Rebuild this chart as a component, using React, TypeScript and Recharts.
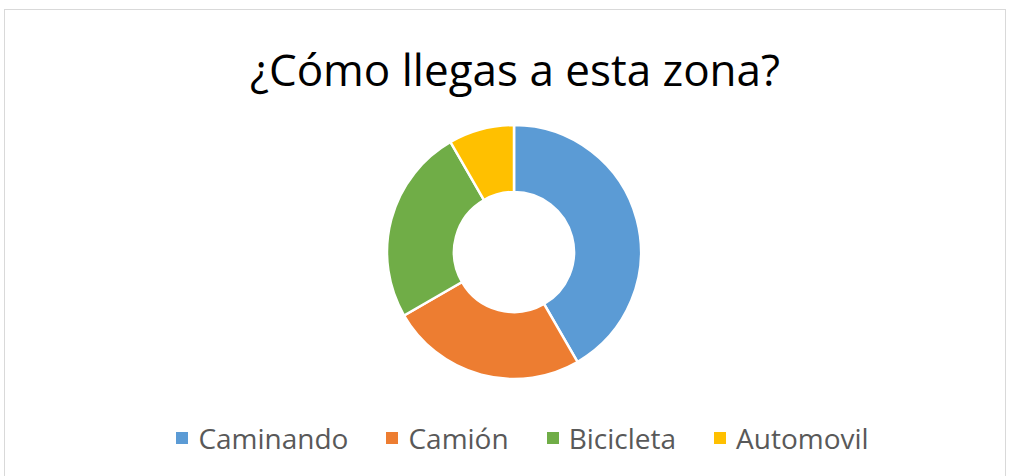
import { PieChart, Pie, Cell, Legend } from 'recharts'

const CATEGORIES = ['Caminando', 'Camión', 'Bicicleta', 'Automovil']
const VALUES = [5, 3, 3, 1]
const COLORS = ['#5b9bd5', '#ed7d31', '#70ad47', '#ffc000']

const data = CATEGORIES.map((name, i) => ({ name, value: VALUES[i] }))

function LegendRow() {
  return (
    <div
      style={{
        display: 'flex',
        justifyContent: 'center',
        alignItems: 'center',
        gap: 38,
        fontFamily: 'Open Sans, sans-serif',
        fontSize: 28,
        lineHeight: '34px',
        color: '#595959',
      }}
    >
      {CATEGORIES.map((c, i) => (
        <span key={c} style={{ display: 'flex', alignItems: 'center', gap: 10 }}>
          <span style={{ width: 12, height: 12, background: COLORS[i], display: 'inline-block' }} />
          {c}
        </span>
      ))}
    </div>
  )
}

export default function App() {
  return (
    <div
      style={{
        position: 'absolute',
        left: 0,
        top: 0,
        width: 1011,
        height: 476,
        background: '#fff',
        overflow: 'hidden',
      }}
    >
      <div
        style={{
          position: 'absolute',
          left: 4,
          top: 9,
          width: 1002,
          height: 480,
          border: '1px solid #d9d9d9',
          boxSizing: 'border-box',
        }}
      />
      <PieChart
        width={1011}
        height={476}
        margin={{ top: 0, right: 0, bottom: 0, left: 0 }}
        style={{ position: 'absolute', left: 0, top: 0 }}
      >
        <text
          x={515}
          y={86}
          textAnchor="middle"
          fontFamily="Open Sans, sans-serif"
          fontSize={44}
          fill="#000"
        >
          ¿Cómo llegas a esta zona?
        </text>
        <Pie
          data={data}
          dataKey="value"
          nameKey="name"
          cx={514}
          cy={252}
          outerRadius={127}
          innerRadius={60}
          startAngle={90}
          endAngle={-270}
          stroke="#fff"
          strokeWidth={2.5}
          isAnimationActive={false}
        >
          {data.map((d, i) => (
            <Cell key={d.name} fill={COLORS[i]} />
          ))}
        </Pie>
        <Legend
          verticalAlign="bottom"
          wrapperStyle={{ bottom: 21, left: 17, width: 1011 }}
          content={() => <LegendRow />}
        />
      </PieChart>
    </div>
  )
}
